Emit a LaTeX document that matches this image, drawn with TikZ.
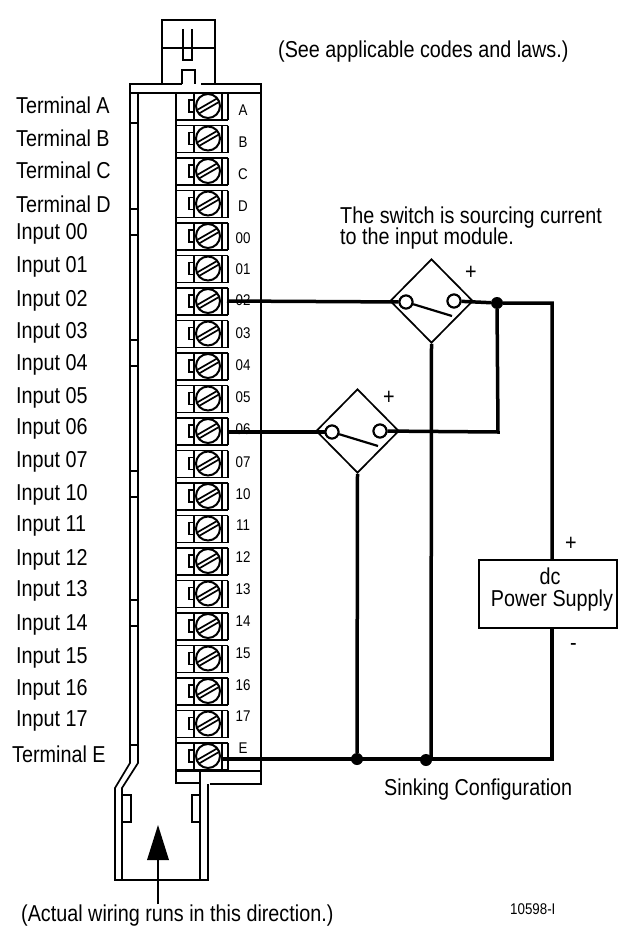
\documentclass[tikz,border=0pt]{standalone}
\usepackage{fontspec}
\setmainfont[FakeStretch=0.86]{Liberation Sans}
\usetikzlibrary{shapes.geometric}
\tikzset{
  thinline/.style={line width=1.7pt},
  wire/.style={line width=3.5pt},
  lbl/.style={inner sep=0pt,anchor=west,font=\fontsize{23}{23}\selectfont},
  tinylbl/.style={inner sep=0pt,font=\fontsize{15.5}{15.5}\selectfont},
  switchbox/.style={draw,thinline,diamond,minimum width=83pt,minimum height=84pt,inner sep=0pt},
  contact/.style={circle,draw,line width=2pt,fill=white,minimum size=13pt,inner sep=0pt},
  junction/.style={circle,fill=black,minimum size=12pt,inner sep=0pt}
}
\begin{document}
\begin{tikzpicture}[x=1pt,y=-1pt]
  \useasboundingbox (0,0) rectangle (621,934);
  % top connector
  \draw[thinline] (162,83) -- (162,20) -- (215,20) -- (215,83);
  \draw[thinline] (162,48) -- (215,48);
  \draw[thinline] (183,29) -- (183,60) -- (192,60) -- (192,29);
  \draw[thinline] (182,84) -- (182,70) -- (195,70) -- (195,84);
  % housing
  \draw[thinline] (182,84) -- (130,84) -- (130,93) -- (261,93);
  \draw[thinline] (201,84) -- (261,84) -- (261,784) -- (210,784);
  \draw[thinline] (130,93) -- (130,763) -- (115,788) -- (115,880) -- (208,880) -- (208,784);
  \draw[thinline] (138,93) -- (138,763) -- (122,788) -- (122,880);
  \draw[thinline] (200,880) -- (200,771);
  \draw[thinline] (176,93) -- (176,783) -- (200,783);
  \draw[thinline] (176,771) -- (261,771);
  \foreach \y in {123,209,235,340,366,471,497,600,626,745}
    \draw[thinline] (130,\y) -- (138,\y);
  \draw[thinline] (122,795) rectangle (131,822);
  \draw[thinline] (192,795) rectangle (200,822);
  % terminal rows
  \foreach \i in {0,...,20} {
    \pgfmathsetmacro{\y}{106+32.5*\i}
    \draw[thinline] (176,\y-13) -- (228,\y-13) (176,\y+14) -- (228,\y+14);
    \draw[thinline] (194,\y-13) -- (194,\y+14) (222,\y-13) -- (222,\y+14) (228,\y-13) -- (228,\y+14);
    \draw[thinline] (194,\y-6) -- (189,\y-6) -- (189,\y+6) -- (194,\y+6);
    \node[circle,draw,line width=2pt,fill=white,minimum size=24pt,inner sep=0pt] (s\i) at (208,\y) {};
    \draw[thinline,shift={(208,\y)},rotate=30] (-11,-2) -- (11,-2) (-11,2) -- (11,2);
  }
  % terminal labels on the block
  \foreach \lab/\y in {A/110,B/142,C/174,D/206,00/238,01/269,02/300,03/333,04/365,05/397,06/429,
      07/462,10/494,11/525,12/557,13/589,14/621,15/653,16/685,17/716,E/748}
    \node[tinylbl] (n\lab) at (243,\y) {\lab};
  % labels on the left
  \foreach \lab/\y in {Terminal A/105,Terminal B/138,Terminal C/170,Terminal D/204,Input 00/234,
      Input 01/267,Input 02/301,Input 03/333,Input 04/365,Input 05/398,Input 06/429,Input 07/462,
      Input 10/495,Input 11/526,Input 12/560,Input 13/591,Input 14/625,Input 15/658,Input 16/690,
      Input 17/721}
    \node[lbl] (l\y) at (16,\y) {\lab};
  \node[lbl] (lE) at (12,754) {Terminal E};
  % arrow
  \coordinate (arrowend) at (158,904);
  \coordinate (arrowbase) at (158,860);
  \draw[line width=2.4pt] (arrowend) -- (arrowbase);
  \fill (158,825) -- (169,860) -- (147,860) -- cycle;
  % switches
  \node[switchbox] (swa) at (431.5,301) {};
  \node[switchbox] (swb) at (357.5,431) {};
  \node[contact] (ca1) at (406,302) {};
  \node[contact] (ca2) at (454,301) {};
  \node[contact] (cb1) at (332,432) {};
  \node[contact] (cb2) at (380,431) {};
  \node[junction] (ja) at (497,303) {};
  \node[junction] (jb) at (357,759) {};
  \node[junction] (jc) at (426,760) {};
  \node[draw,thinline,minimum width=138pt,minimum height=68pt,inner sep=0pt] (psu) at (548,594) {};
  \coordinate (t02) at (227,301);
  \coordinate (t06) at (227,432);
  \coordinate (tE) at (222,759);
  \coordinate (cnr) at (552,303);
  \coordinate (cnrb) at (552,759);
  \coordinate (psutop) at (552,560);
  \coordinate (psubot) at (552,628);
  \coordinate (ca) at (431,759);
  \coordinate (cb) at (498,432);
  \draw[wire] (t02) -- (ca1);
  \draw[wire] (t06) -- (cb1);
  \draw[wire] (ca2) -- (ja) -- (cnr) -- (psutop);
  \draw[wire] (psubot) -- (cnrb) -- (tE);
  \draw[wire] (ja) -- (cb) -- (cb2);
  \draw[wire] (swa.south) -- (ca);
  \draw[wire] (swb.south) -- (jb);
  % contacts go over the wires
  \node[contact] (ca1) at (406,302) {};
  \node[contact] (ca2) at (454,301) {};
  \node[contact] (cb1) at (332,432) {};
  \node[contact] (cb2) at (380,431) {};
  \draw[line width=2.2pt] (ca1) -- (452,316);
  \draw[line width=2.2pt] (cb1) -- (378,446);
  % texts
  \node[lbl] (seecodes) at (278,52) {(See applicable codes and laws.)};
  \node[lbl] (swtxta) at (340,218) {The switch is sourcing current};
  \node[lbl] (swtxtb) at (340,239) {to the input module.};
  \node[lbl] (plusa) at (465,273) {+};
  \node[lbl] (plusb) at (383,398) {+};
  \node[lbl] (pluspsu) at (565,544) {+};
  \node[lbl] (minuspsu) at (570,647) {-};
  \node[lbl,anchor=center] (dc) at (550,576) {dc};
  \node[lbl,anchor=center] (psutxt) at (552,601) {Power Supply};
  \node[lbl] (sinking) at (384,790) {Sinking Configuration};
  \node[lbl] (wiring) at (21,916) {(Actual wiring runs in this direction.)};
  \node[tinylbl,anchor=west] (figno) at (510,909) {10598-I};
\end{tikzpicture}
\end{document}
